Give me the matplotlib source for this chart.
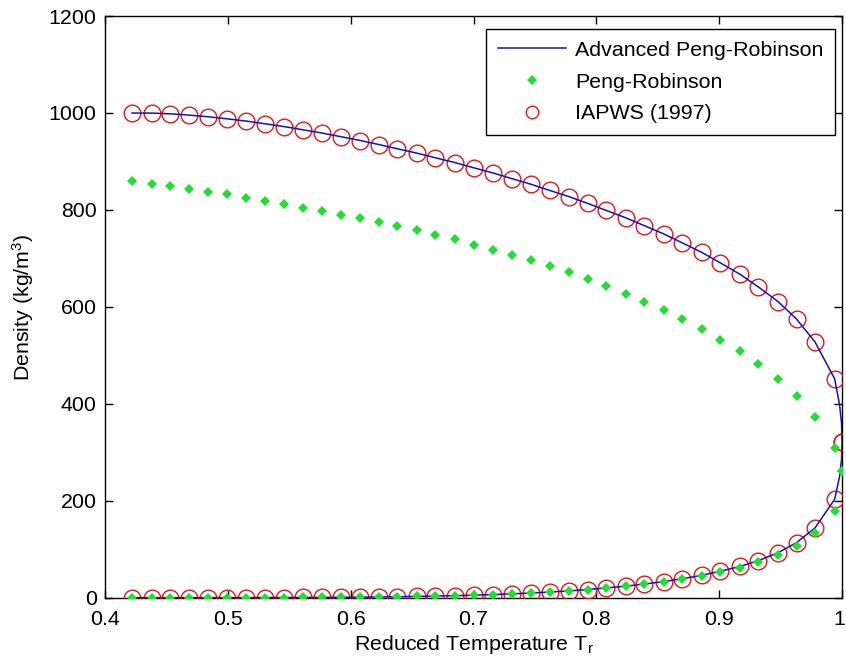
import matplotlib
matplotlib.use('Agg')
import matplotlib.pyplot as plt
import matplotlib.transforms as mtransforms
import numpy as np

# reduced temperatures (T/Tc) of the sample points, last one is the critical point
tr = [0.422, 0.438, 0.453, 0.468, 0.484, 0.499, 0.515, 0.530, 0.546, 0.561,
      0.577, 0.592, 0.608, 0.623, 0.638, 0.654, 0.669, 0.685, 0.700, 0.716,
      0.731, 0.747, 0.762, 0.778, 0.793, 0.808, 0.824, 0.839, 0.855, 0.870,
      0.886, 0.901, 0.917, 0.932, 0.948, 0.963, 0.978, 0.994, 1.000]

# IAPWS (1997) saturated liquid / vapour densities (kg/m3)
iapws_liq = [999.8, 999.7, 998.2, 995.6, 992.2, 988.0, 983.2, 977.8, 971.8, 965.3,
             958.4, 951.0, 943.1, 934.8, 926.1, 917.0, 907.5, 897.5, 887.0, 876.1,
             864.7, 852.7, 840.2, 827.1, 813.4, 798.9, 783.6, 767.5, 750.3, 731.9,
             712.1, 690.7, 667.1, 640.8, 610.7, 574.7, 527.6, 451.4, 322.0]
iapws_vap = [0.005, 0.009, 0.017, 0.030, 0.051, 0.083, 0.130, 0.198, 0.293, 0.424,
             0.598, 0.827, 1.12, 1.50, 1.97, 2.55, 3.26, 4.12, 5.16, 6.39,
             7.86, 9.59, 11.6, 14.0, 16.8, 20.0, 23.7, 28.1, 33.2, 39.1,
             46.2, 54.5, 64.4, 76.4, 92.9, 113.6, 143.9, 203.0, 322.0]

# original Peng-Robinson
pr_liq = [860, 854, 849, 843, 837, 832, 825, 819, 812, 804,
          797, 790, 783, 776, 767, 759, 749, 739, 728, 718,
          707, 696, 685, 672, 658, 643, 627, 611, 593, 574,
          554, 532, 508, 482, 452, 417, 372, 309, 262]
pr_vap = [0.005, 0.009, 0.017, 0.030, 0.051, 0.083, 0.130, 0.198, 0.293, 0.424,
          0.598, 0.827, 1.12, 1.50, 1.97, 2.55, 3.26, 4.12, 5.16, 6.39,
          7.86, 9.5, 11.5, 13.8, 16.5, 19.6, 23.2, 27.4, 32.3, 38.0,
          45.0, 53.0, 62.0, 73.0, 88.0, 107.0, 134.0, 178.0, 262]

# advanced Peng-Robinson curve (liquid branch -> critical point -> vapour branch)
apr_tr_liq = tr[:-1] + [0.998, 0.9996]
apr_liq = iapws_liq[:-1] + [398, 360]
apr_tr_crit = [1.0]
apr_crit = [322]
apr_tr_vap = [0.9996, 0.998] + tr[-2::-1]
apr_vap = [285, 250] + iapws_vap[-2::-1]

plt.rcParams['font.family'] = ['Liberation Sans', 'DejaVu Sans']
plt.rcParams['mathtext.default'] = 'regular'
plt.rcParams['font.size'] = 15.4

fig = plt.figure(figsize = (8.46, 6.64), dpi = 100)
ax = fig.add_axes([0.1241, 0.0999, 0.8712, 0.876])

apr_x = np.concatenate([apr_tr_liq, apr_tr_crit, apr_tr_vap])
apr_y = np.concatenate([apr_liq, apr_crit, apr_vap])

ax.plot(apr_x, apr_y, color = '#1010c8', linewidth = 1.1, label = 'Advanced Peng-Robinson', zorder = 4)
ax.plot(tr + tr, pr_liq + pr_vap, linestyle = 'none', marker = 'D', markersize = 5,
        color = '#22dd33', markeredgewidth = 0, label = 'Peng-Robinson', zorder = 5)
ax.plot(tr + tr, iapws_liq + iapws_vap, linestyle = 'none', marker = 'o', markersize = 12,
        markerfacecolor = 'none', markeredgecolor = '#e81515', markeredgewidth = 1.0,
        label = 'IAPWS (1997)', zorder = 3)

ax.set_xlim(0.4, 1)
ax.set_ylim(0, 1200)
ax.set_xticks([0.4, 0.5, 0.6, 0.7, 0.8, 0.9, 1.0])
ax.set_xticklabels(['0.4', '0.5', '0.6', '0.7', '0.8', '0.9', '1'])
ax.set_yticks(np.arange(0, 1201, 200))
ax.tick_params(direction = 'in', length = 6, width = 1, top = True, right = True)
ax.tick_params(axis = 'x', pad = 9)
ax.tick_params(axis = 'y', pad = 6)
for s in ax.spines.values():
    s.set_linewidth(1.0)

# nudge the last x tick label so it stays inside the figure
last = ax.get_xticklabels()[-1]
last.set_transform(last.get_transform() + mtransforms.ScaledTranslation(-0.03, 0, fig.dpi_scale_trans))

ax.set_xlabel('Reduced Temperature T$_r$', labelpad = 3)
ax.set_ylabel('Density (kg/m$^3$)', labelpad = 9)

leg = ax.legend(loc = 'upper right', bbox_to_anchor = (835 / 846, 1 - 29 / 664),
                bbox_transform = fig.transFigure, borderaxespad = 0,
                fancybox = False, framealpha = 1, edgecolor = 'black',
                handlelength = 3.2, handletextpad = 0.4, labelspacing = 0.6, borderpad = 0.55)
leg.get_frame().set_linewidth(1.0)
leg.legend_handles[2].set_markersize(9)

fig.savefig('out.png', dpi = 100)
